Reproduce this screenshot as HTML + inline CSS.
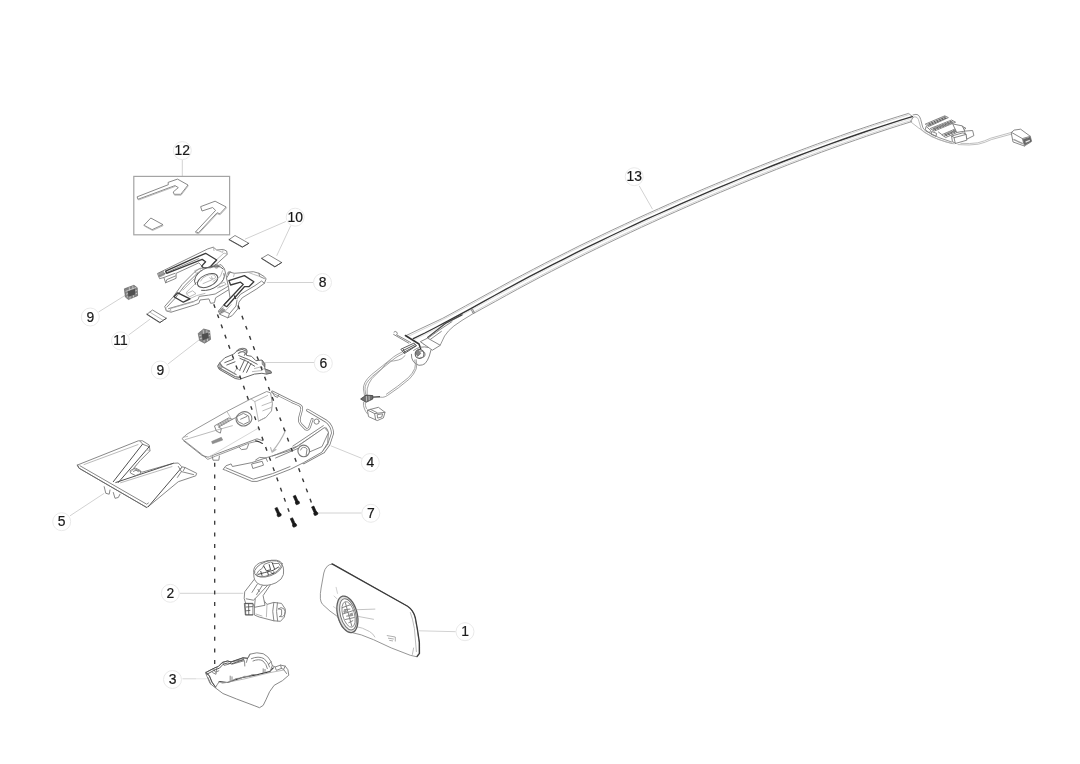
<!DOCTYPE html>
<html lang="en">
<head>
<meta charset="utf-8">
<title>Interior mirror - exploded parts diagram</title>
<style>
  html, body { margin: 0; padding: 0; background: #ffffff; }
  body { width: 1080px; height: 764px; overflow: hidden; font-family: "Liberation Sans", Arial, sans-serif; }
  svg { display: block; }
  .lbl text { font-family: "Liberation Sans", Arial, sans-serif; font-size: 13.9px; fill: #1a1a1a; stroke: #1a1a1a; stroke-width: 0.2px; text-anchor: middle; }
  .lbl circle { fill: #ffffff; stroke: #e9e9e9; stroke-width: 1; }
  .lead { stroke: #d2d2d2; stroke-width: 1; fill: none; }
  .o  { stroke: #7a7a7a; stroke-width: 0.9; fill: none; stroke-linejoin: round; stroke-linecap: round; }
  .of { stroke: #7a7a7a; stroke-width: 0.9; fill: #ffffff; stroke-linejoin: round; stroke-linecap: round; }
  .l  { stroke: #a9a9a9; stroke-width: 0.8; fill: none; stroke-linejoin: round; stroke-linecap: round; }
  .d  { stroke: #3a3a3a; stroke-width: 1.3; fill: none; stroke-linejoin: round; stroke-linecap: round; }
  .df { stroke: #3a3a3a; stroke-width: 1.3; fill: #ffffff; stroke-linejoin: round; stroke-linecap: round; }
  .dash { stroke: #383838; stroke-width: 1.4; fill: none; }
  .k  { fill: #1a1a1a; stroke: #1a1a1a; stroke-width: 0.6; }
  .g  { fill: #848484; stroke: #5a5a5a; stroke-width: 0.6; }
</style>
</head>
<body>
<svg width="1080" height="764" viewBox="0 0 1080 764">
<defs><filter id="soft" x="0" y="0" width="1080" height="764" filterUnits="userSpaceOnUse"><feGaussianBlur stdDeviation="0.42"/></filter></defs>
<rect x="0" y="0" width="1080" height="764" fill="#ffffff"/>
<g id="art" filter="url(#soft)">

<!-- ================= LEADER LINES ================= -->
<g id="leaders" class="lead">
  <path d="M182.3 160 V176.3"/>
  <path d="M285.8 221.5 L245 239.2"/>
  <path d="M290.8 225.5 L276.7 255.8"/>
  <path d="M266.7 282.5 H313.3"/>
  <path d="M98.5 312 L125.8 295"/>
  <path d="M128.6 335 L150 319.2"/>
  <path d="M168 364 L200 339.2"/>
  <path d="M265 362.5 H314.2"/>
  <path d="M330.8 445.8 L361.7 458.3"/>
  <path d="M318.3 513 H361.7"/>
  <path d="M70 515.8 L104.2 493.3"/>
  <path d="M180 593.3 H243.3"/>
  <path d="M182.5 678.8 H196" style="stroke:#d6d6d6"/><path d="M196 678.8 H206.7" style="stroke:#e6e6e6"/>
  <path d="M419.2 630.8 L455.8 631.7"/>
  <path d="M639.2 185.8 L652.5 209.2"/>
</g>

<!-- PARTS_BEGIN -->

<!-- ===== 12: adhesive pad kit (boxed) ===== -->
<g id="p12">
  <rect x="133.8" y="176.4" width="95.8" height="58.4" fill="none" stroke="#a4a4a4" stroke-width="1.2"/>
  <path class="of" d="M137.5 196.7 L168.3 184.7 L168.1 182.4 L177.5 179.1 L188 185 L180.8 194.3 L174.2 194.3 L173.2 192 L178.3 187.6 L175 185.6 L138.3 199.2 Z"/>
  <path class="l" d="M138.3 199.2 L138.6 200 L175 186.5 M174.2 194.3 L174.6 195.2 L181.1 195.2 L188.2 185.9"/>
  <path class="of" d="M201 206.5 L215.1 201.2 L226.2 207 L219.9 213.8 L217 212.8 L198.5 232.8 L195.6 231.8 L215.6 210.4 L212.6 207.5 L202.4 210.9 Z"/>
  <path class="l" d="M195.6 231.8 L195.7 232.8 L198.6 233.8 L217.2 213.8 L220.1 214.8 L226.4 208"/>
  <path class="of" d="M144.2 225 L150.8 218 L163 224.7 L152.5 229.5 Z"/>
  <path class="l" d="M144.2 225 L144.4 226 L152.6 230.5 L163 225.7"/>
</g>

<!-- ===== 10 / 11: small pads ===== -->
<g id="pads">
  <path class="of" d="M229.2 239.5 L235 235.5 L248.8 243.3 L242.5 247 Z"/>
  <path class="d" style="stroke:#4a4a4a;stroke-width:0.95" d="M229.2 239.5 L242.5 247 L248.8 243.3"/>
  <path class="of" d="M261.7 258.3 L268 254.5 L281.7 262.5 L275 266.7 Z"/>
  <path class="d" style="stroke:#4a4a4a;stroke-width:0.95" d="M261.7 258.3 L275 266.7 L281.7 262.5"/>
  <path class="of" d="M147 314.2 L152.5 310 L166.3 318.3 L160 322.5 Z"/>
  <path class="d" style="stroke:#4a4a4a;stroke-width:0.95" d="M147 314.2 L160 322.5 L166.3 318.3"/>
  <path class="l" d="M149.8 312.1 L163.2 320.4"/>
</g>

<!-- ===== 9: clips ===== -->
<g id="clips">
  <g transform="translate(130.7 292.4) scale(1.02)">
    <path class="g" d="M-6.2 -3.5 L3.2 -7 L6.4 -4.6 L6.8 3.2 L-2.2 7 L-5.2 4.6 Z"/>
    <path d="M-5 -1 L5.6 -5 M-4.6 1.8 L6 -2 M-3.8 4.6 L6.4 0.8 M-1.4 -5.2 L-0.6 6.2 M2 -6.4 L2.8 5" stroke="#d8d8d8" stroke-width="0.7" fill="none"/>
    <path d="M-2.8 -1.2 L4.2 -3.6 L4.6 2 L-2.4 4.6 Z" fill="#505050"/>
  </g>
  <g transform="translate(204.2 335.8) scale(1.0)">
    <path class="g" d="M-6 -2.4 L-0.6 -6.8 L5.4 -5.2 L6.4 3.6 L0.4 7.4 L-4.6 4.8 Z"/>
    <path d="M-5 0 L5.8 -3.4 M-4.4 3 L6 -0.4 M-1 -6 L0 6.6 M2.6 -5.6 L3.4 5.4" stroke="#d8d8d8" stroke-width="0.7" fill="none"/>
    <path d="M-2.6 -1.6 L4 -3.4 L4.6 2.2 L-1.6 4.6 Z" fill="#505050"/>
  </g>
</g>

<!-- ===== 8: mounting bracket ===== -->
<g id="p8">
  <!-- left arm -->
  <path class="of" d="M157.8 273.3 L207.8 248.9 L213.3 247.2 L216.7 250 L223.3 249.4 L226.7 251.1 L227.2 254.4 L216.7 263.9 L210.6 267.8 L204 268.5 L198.9 262.8 L176.1 273.3 L176.1 278.3 L165.6 282.8 L163.9 277.5 L160 278.6 Z"/>
  <path class="o" d="M159 276 L176 268.4 L198.9 258.6 M163.9 277.5 L175 273.3 M165.6 282.8 L166.8 279.6 L175.4 276"/>
  <path class="l" d="M213.3 247.2 L214 250.6 M223.3 249.4 L222.6 252.4 L216.7 250 M227.2 254.4 L224 253 L214 262 L210.6 267.8"/>
  <path class="g" style="opacity:0.75" d="M158.4 273.6 L163.4 271.2 L164.8 274.6 L159.8 277 Z"/>
  <path class="d" d="M165.6 271.1 L196.7 257.2 L205.6 253.3 L216.7 260 L209.4 267.8 L203.3 267.8 L201.7 266.1 L205.6 261.7 L202.2 259.4 L166.7 273.3 Z"/>
  <!-- centre body -->
  <path class="of" d="M165 306.1 L173.3 296.7 L182.2 284.4 L194.4 272.2 L200 268.3 L210.6 267.8 L221 264.6 L224.4 268.6 L226.7 277.8 L230 288.9 L215.6 297.8 L214.4 302.8 L210.6 303.3 L208.9 298.9 L200 300 L198.9 303.3 L194.4 305 L171.1 312.2 L166.7 311.1 Z"/>
  <path class="o" d="M167.4 306.6 L175.4 298 L184.2 286.2 L196 274.6 L201.4 270.6 M168.6 308.6 L193.6 301.4 L198 299.6 L199.2 296.4 L208.4 295.2 L215.2 294 L228.6 286"/>
  <path class="l" d="M166.2 307.2 A2.4 2.4 0 1 0 170.6 309.8 M171.1 312.2 L170.4 308.6 L194 301.8 M186 300.4 L196.6 295.6 L205 293.4 M183 290 L194 279 M186.2 292.6 L197 282"/>
  <ellipse class="o" style="stroke:#5c5c5c;stroke-width:1" cx="207.6" cy="280.6" rx="10.8" ry="6" transform="rotate(-24 207.6 280.6)"/>
  <path class="o" style="stroke:#5c5c5c;stroke-width:1" d="M195.6 284.4 A15.4 9 -24 0 1 223.4 269 M224 273.6 A16 9.4 -24 0 1 201.6 290.4"/>
  <path class="l" d="M200.6 281 A8 4 -24 0 1 214.6 275.4 M203 283.6 L212.4 279.6 L211.6 276.6 M209.6 277.8 A3 1.8 0 1 0 215.4 276.2 M213 281.4 L220.4 276.4 L222.6 270.6"/>
  <path class="l" d="M195 270.6 L199.6 268.6 L201 271 L196.4 273.2 Z M186.6 293.6 L192.6 290.8 L196 293.6 L190 296.6 Z M218.6 284.6 L224.4 282.2 L226 284.4 L220.2 287 Z M217.6 288 L223.8 285.4"/>
  <circle class="g" style="opacity:0.7" cx="216.4" cy="266.3" r="2"/>
  <circle class="g" style="opacity:0.7" cx="229.6" cy="273.6" r="2.1"/>
  <path class="d" d="M173.9 296.7 L177.8 292.8 L190 298.9 L183.3 302.2 Z"/>
  <!-- right arm -->
  <path class="of" d="M226.7 277.8 L230 272.2 L234.4 273.3 L247.8 272.2 L253.3 271.7 L258.9 273.3 L264.4 276.7 L266.1 278.9 L264.4 283.3 L256.7 288.9 L242.2 297.8 L238.9 302.2 L237.8 308.9 L232.2 315.6 L227.8 317.8 L220 314.4 L218.3 311.1 L221.1 307.8 L230 297.8 L228.6 287.6 Z"/>
  <path class="o" d="M258.9 273.3 L259.6 276.4 L264.4 278.6 M264.4 283.3 L261.6 281 L255 285.6 L240.6 294.2 L237 298.6 M220 314.4 L222.6 310.6 L229.6 313.6 L227.8 317.8 M229.6 313.6 L236 306 L237 300"/>
  <path class="l" d="M234.4 273.3 L233.6 276.6 M247.8 272.2 L253.6 274.4 L259.6 276.4 M219.4 311.4 L223.8 306.8 M224 312.4 L231.2 304.6"/>
  <path class="g" style="opacity:0.75" d="M219 311.6 L222.2 308.2 L225.2 309.8 L222.2 313.2 Z"/>
  <path class="d" d="M228.9 280.6 L244.4 275.6 L253.9 281.7 L248.9 286.7 L244.4 286.7 L226.7 306.7 L223.9 305 L240 287.8 L243.3 284.4 L240.6 282.2 L230.6 285 Z"/>
</g>

<!-- ===== 6: sensor carrier ===== -->
<g id="p6">
  <path class="of" style="stroke:#686868;stroke-width:1" d="M217.8 365.9 L219.6 363 L224.8 357.8 L233.7 354.1 L236.7 351.1 L241.9 349.3 L246.3 351.1 L246.5 355.4 L251.5 356.3 L255.9 360.7 L261.9 360 L264.8 363.7 L264.8 368.9 L270.7 371.1 L271.5 373 L266.3 374.1 L261.9 373.3 L254.4 374.1 L239.6 379.3 L235.2 378.5 L219.6 369.6 Z"/>
  <path class="o" style="stroke-width:1.2" d="M218.6 367.4 L234.8 376.6 L239.6 377.4 M219.6 363 L222.4 366.8 L236 374.6 M236.7 351.1 A4.6 3 -20 0 1 246 354 M238.4 353.4 A3.2 2 -20 0 1 244.4 355.2"/>
  <path class="o" style="stroke:#666666;stroke-width:1" d="M238.8 355.6 L248.6 359.6 L257.2 364.2 M240 358.4 L246.6 361.2 L254.6 366.2 M244.6 359.8 L239.6 370.4 M248.2 361.6 L243.2 372 M251 363.4 L246.6 372.4 M224.8 362.6 L233.4 359.2 M226.8 365 L235 361.8"/>
  <path class="l" d="M254.4 368.6 L261.6 366.6 L263.8 369.4 M252.4 371.6 L261.4 370.6 M233.4 373.8 L236.6 368.8 L240.6 370.2"/>
  <path class="g" style="opacity:0.8" d="M261.9 360 L264.8 363.7 L264.6 367 L262.2 364.2 Z"/>
  <path class="g" style="opacity:0.8" d="M264.8 368.9 L270.7 371.1 L271.5 373 L266.3 374.1 Z"/>
  <path class="g" style="opacity:0.6" d="M218.2 365.6 L220.2 363.4 L222.6 366.8 L220.4 369.4 Z"/>
</g>

<!-- ===== 4: roof console housing ===== -->
<g id="p4">
  <!-- upper-left shell -->
  <path fill="#ffffff" stroke="none" d="M181.9 438.7 L187 434.1 L226.9 411.4 L250.9 398.9 L266.7 391.5 L270.6 392.9 L272.4 403.5 L271.5 410.9 L266 417.8 L262.2 443.1 L257 441.2 L249.3 443.1 L238.9 447 L215.6 456.1 L207.8 459.4 L200 452.9 Z"/>
  <path class="o" style="stroke:#8c8c8c" d="M258.5 421.1 L265.9 417.4 L271.5 410.9 L272.4 403.5 L270.6 392.9 L266.7 391.5 L250.9 398.9 L226.9 411.4 L187 434.1 L181.9 438.7 L200 452.9 L207.8 459.4 L215.6 456.1 L238.9 447 L249.3 443.1 L257 441.2"/>
  <path class="d" style="stroke-width:1.1" d="M255.6 440.8 L258.6 441.6 L262.4 443.4"/>
  <path class="o" d="M183.6 440.8 L202 455.4 L208 457.2 L257 438.8 L262.6 440.6"/>
  <path class="o" d="M212.3 456.6 L213 460.2 L218.8 460.2 L219.4 456.1 M238.9 447 L241.5 449.6 L246.7 449 L248.6 444.4"/>
  <path class="l" d="M185.2 439.6 L215.7 430.4 L232.4 425.7 M183.4 437.2 L187.6 436.4 M250.9 398.9 L254.8 401.6 L267.6 395.4 M254.8 401.6 L258.5 421.1 L265.9 417.4 M262 405.6 L271.6 402 M262.8 410.8 L271.4 407.4 M227 411.6 L230.4 417.4"/>
  <path class="o" d="M214.8 425.7 L228.7 417.9 L232.4 419.3 L218.5 427.1 L221.3 428.5 L220.4 433.1 L216.7 431.3 Z"/>
  <path d="M217 425.4 L229 418.8 M218 426.2 L230.4 419.6 M218.4 424 L220 427 M220.6 422.8 L222.2 425.8 M222.8 421.6 L224.4 424.6 M225 420.4 L226.6 423.4 M227.2 419.2 L228.8 422.2" stroke="#8a8a8a" stroke-width="0.7" fill="none"/>
  <ellipse class="o" style="stroke-width:1.1" cx="244" cy="418.8" rx="8" ry="7" transform="rotate(-20 244 418.8)"/>
  <path class="o" d="M236.8 416.6 L243.4 413.4 L248.6 416 L249.4 421.6 L243.6 424.4 L238.4 421.8 Z M232.4 419.3 L237 417 M240.6 419.2 L247 416.4"/>
  <path d="M211.6 441.5 L221.3 437.3 L222.7 440.1 L212.5 443.8 Z" fill="#8f8f8f" stroke="#7a7a7a" stroke-width="0.5"/>
  <path class="l" style="stroke:#cdcdcd" d="M208 457.4 L258.6 428"/>
  <!-- wire bracket and frame -->
  <path d="M272.4 391.9 L291.9 401.7 L299.3 404.9 Q302.4 406.4 301.6 410 L299.6 417.4 Q298.6 422 301.4 424.6 L305.7 429 Q308.4 430.2 309.6 427 L312.2 419.3" fill="none" stroke="#7a7a7a" stroke-width="2.6" stroke-linejoin="round" stroke-linecap="round"/>
  <path d="M272.4 391.9 L291.9 401.7 L299.3 404.9 Q302.4 406.4 301.6 410 L299.6 417.4 Q298.6 422 301.4 424.6 L305.7 429 Q308.4 430.2 309.6 427 L312.2 419.3" fill="none" stroke="#ffffff" stroke-width="1.1" stroke-linejoin="round" stroke-linecap="round"/>
  <path class="o" d="M272.4 391.9 L274.6 396.2 L277.6 397.4 L278.8 394.8"/>
  <path d="M307.6 410.2 L326.1 421.1 Q332 425.4 332.6 433.1 L328.9 444.3 L323.3 452 L303.7 462.6" fill="none" stroke="#7a7a7a" stroke-width="3" stroke-linejoin="round" stroke-linecap="round"/>
  <path d="M307.6 410.2 L326.1 421.1 Q332 425.4 332.6 433.1 L328.9 444.3 L323.3 452 L303.7 462.6" fill="none" stroke="#ffffff" stroke-width="1.4" stroke-linejoin="round" stroke-linecap="round"/>
  <path class="o" d="M326.1 427.6 Q328.4 430 328 433.1 L324.6 443 L320.6 448.6 L309.6 454.4"/>
  <circle class="o" cx="316.6" cy="421.6" r="2.6"/>
  <path class="o" d="M323.3 425.7 L292.8 446.1 M325 427.6 L294.6 448"/>
  <!-- lower shell -->
  <path class="of" d="M223.3 469.1 L225.9 465.8 L231.1 463.9 L232.4 466.5 L251.9 462.6 L267.4 457.4 L290.7 450.3 L298.5 445.7 L324.4 427.6 L328.4 432 L327.7 443.1 L321.9 452.2 L303.7 462.6 L290.7 469.1 L272.6 476.2 L257 481.4 L251.9 481.4 L225.9 470.4 Z"/>
  <path class="o" d="M225.9 467.8 L253.2 479.2 L272.6 473.6 L290 466.6 M272.6 456 L296 446.6 M275.6 458 L298 448.4"/>
  <path class="o" d="M251.9 463.9 L262.2 461.3 L263.5 465.2 L253.2 468.4 Z M255.6 460 L259.6 457.4 L266 458 L267.4 461.4"/>
  <circle class="of" style="stroke-width:1.1" cx="303.7" cy="450.9" r="5.8"/>
  <path class="o" d="M300.6 450 A3.4 3.4 0 0 1 307 449.2 L306.2 455 M309.4 452 L322 446.6 L328 433.6"/>
  <path class="l" style="stroke:#b4b4b4;stroke-width:1.15" d="M285.6 430.2 Q281 441 272.4 451.4 M270.6 447.6 L272 452.2 L276 449.6"/>
</g>

<!-- ===== 5: V-shaped trim cover ===== -->
<g id="p5">
  <path class="of" d="M77.5 465 L138.3 440.8 L142.5 440.8 L149.2 445 L150 450.8 L140 460.8 L133.6 468.4 L142 472.2 L173.3 463.3 L178.3 463 L181.7 466.7 L185 467.5 L196.7 473.3 L195.8 475.8 L178.3 481.7 L149.2 505.8 L146.7 507.5 L79.2 468.3 Z"/>
  <path class="o" d="M80 465.8 L146.7 504.2 L148.4 503 M140.2 441.4 L143 444.4 L149.2 446.7"/>
  <path class="d" style="stroke:#505050;stroke-width:1" d="M142.5 444.2 L113.3 481.7 M149.2 446.7 L118.3 482.5 M115.8 482.5 L173.3 463.3 M181.7 467.5 L148.3 506.7"/>
  <path class="d" style="stroke:#686868;stroke-width:0.95" d="M77.5 465 L79.2 468.3 L146.7 507.5"/>
  <path class="o" d="M178.3 466.4 L181.4 471.6 L177.4 477.4 M181.4 471.6 L193.6 474.6 M185 467.5 L183.4 470.6"/>
  <path class="l" d="M84 464.6 L138 444.6 M120.6 482.8 L172 466.6 M137.5 463.3 L131.6 471.4 M150 450.8 L146.4 449.4"/>
  <path class="o" d="M130.6 470.4 L135.4 468 L140.4 470.6 L140.6 473.6 L135.6 475.6 L130.8 473.2 Z M133.4 471.4 L136 470.2 L138.4 471.6"/>
  <path class="o" d="M104.2 486.7 L105.8 493.3 L109.2 494.2 L110 490 M113.3 492.5 L115 498.3 L118.3 497.5 L120 494.2"/>
</g>

<!-- ===== assembly (dashed) lines ===== -->
<g id="dashes">
  <path class="dash" style="stroke-dasharray:3.9 6.95" d="M213.75 304.2 L291.5 518.3"/>
  <path class="dash" style="stroke-dasharray:3.9 6.95" d="M234.35 295.4 L312.6 505.8"/>
  <path class="dash" style="stroke-width:1.3;stroke-dasharray:4 7.6" d="M214.7 462.8 V668"/>
</g>

<!-- ===== 7: screws ===== -->
<g id="screws" class="k">
  <g transform="translate(277.9 512.1) rotate(-24)"><rect x="-1.25" y="-4.6" width="2.5" height="7"/><rect x="-2" y="1.6" width="4" height="3" rx="1"/></g>
  <g transform="translate(296.2 500) rotate(-24)"><rect x="-1.25" y="-4.6" width="2.5" height="7"/><rect x="-2" y="1.6" width="4" height="3" rx="1"/></g>
  <g transform="translate(293.3 522.5) rotate(-24)"><rect x="-1.25" y="-4.6" width="2.5" height="7"/><rect x="-2" y="1.6" width="4" height="3" rx="1"/></g>
  <g transform="translate(314.6 510.8) rotate(-24)"><rect x="-1.25" y="-4.6" width="2.5" height="7"/><rect x="-2" y="1.6" width="4" height="3" rx="1"/></g>
</g>

<!-- ===== 2: mirror arm / ball joint ===== -->
<g id="p2">
  <!-- lower ball housing -->
  <path class="of" d="M254.4 607 L254.4 615 L259.2 617 L273.8 620.8 L280.5 621.3 L284.4 617 L285.4 609.2 L281.5 603.4 L273.8 602.4 L267 604.4 L263.4 600 Z"/>
  <path class="o" d="M273.8 602.4 Q271.6 611 273.8 620.8 M277.4 602.8 Q275.6 611 277.6 621 M278.4 608.8 A4.2 4.6 0 1 1 279.6 616.6 M278.4 608.8 L281.6 609.6 L281.6 615.2 L279.6 616.6"/>
  <path class="l" d="M256 614 L262 616 M267 604.4 L266.4 616.8"/>
  <!-- arm -->
  <path class="of" d="M254.4 579.2 L244.7 591.8 L244.2 598.5 L245.7 603.4 L252.9 603.4 L254.4 607.3 L265 605.3 L263.1 595.6 L270.9 584 L273.6 582.4 L264 585 Z"/>
  <path class="o" d="M267.9 585 L255.3 598.5 L254.4 607.3 M257.4 584 L252 592.4 M246.2 598.8 L253.4 600.2 L255.3 598.5 M258 589.4 L259.4 591.6 M262.2 585.6 L256.6 594.6"/>
  <!-- clip on arm (dark) -->
  <path class="of" d="M244.7 603.4 L252.9 603.4 L252.9 615 L245.7 615 Z"/>
  <path class="d" style="stroke:#4c4c4c;stroke-width:0.8" d="M245.2 603.6 L252.6 603.8 M246.4 607 L252.4 606.6 M248.6 604 L248.8 614.6 M245.8 614.8 L252.8 614.8 M245 603.6 L245.8 614.6 M246.4 610.8 L250 610.4"/>
  <!-- ring -->
  <path class="of" d="M253.6 572 Q253 566.4 259.4 563 Q268 559 276.6 561 Q283.6 563.4 283.6 570 L283.4 574.6 Q282.4 579.4 276 582.8 Q267 586.8 260.2 584.6 Q254.8 582.6 254 577.4 Z"/>
  <ellipse class="o" cx="268.4" cy="568.6" rx="14.6" ry="7.4" transform="rotate(-20 268.4 568.6)"/>
  <path class="o" d="M256.6 574 Q258 570.4 262.4 568.2 L264.4 564.2 L270.6 562 L274 563.6 L279 563.4 L280.6 566.6 Q279 570.4 274.4 573 L265 576.4 L258.4 576.4 Z"/>
  <path class="d" style="stroke-width:0.9" d="M258 574.4 L264.6 572.6 L273 570.4 L278.6 567 M263.8 566.2 L266.4 570.8 L270.6 569.8 L269.2 564.6 M272.4 563.2 L274.4 568.6 M260.8 571.4 L262 575.4 M267.6 572 L268.4 575 M271 572.6 A1.6 1.2 0 1 0 274 571.8"/>
</g>

<!-- ===== 3: lower cover ===== -->
<g id="p3">
  <path class="of" d="M205.9 672.5 L209.2 670.6 L214.7 667.9 L218.3 666.5 L222.4 662.4 L227.5 661 L231.1 661.9 L243 657.8 L247.6 658.3 L249.9 654.2 L256.8 652.8 L263.2 653.7 L267.8 656.9 L271 661.5 L272.3 665.6 L275.1 667 L280.6 665.1 L285.2 666.1 L287.9 669.7 L288.8 675.2 L282.4 680.7 L274.2 685.3 L269.6 691.7 L265.9 699.9 L263.2 705.4 L259.5 707.7 L254.9 705.9 L236.6 699 L222.9 693.5 L215.6 688 L210.1 683.5 L207.3 677.1 Z"/>
  <path class="d" style="stroke-width:1.1" d="M219.2 681.6 L227.5 682.5 L243.9 677.1 L254.9 675.2 L269.6 671.6 L273.3 667.9"/>
  <path class="o" d="M205.9 672.5 L209.2 675.2 L211.9 681.6 L215.6 687.1 L217.4 684.4 L219.2 681.6 M208 677.6 L210.8 684 M216.5 668.8 L216 674.3 L212.6 672.6 M213.4 668.6 L215.4 672.2 L218.8 670.8 M222.4 662.4 L224 665.4 L229.4 664 L231.1 661.9 M231.1 661.9 L243.2 659.6 M232 664.2 L244 660.8 M247.6 658.3 L246.4 662.4 M243 657.8 L244.6 662 L244.8 666 M230.2 676.1 V680.6 M232 676.8 V680 M263.2 668.8 V672.6 M265 669.4 V672.4"/>
  <path class="o" d="M249.9 654.2 L248.5 657.4 M251.3 658.7 Q258.6 655.6 264.1 658.7 Q268.6 662.6 269.6 667 M253 661 Q259 658.4 263 661 Q266.4 664 267.4 668.6 M271 661.5 L268.6 664.6 M272.3 665.6 L270 672"/>
  <path class="o" d="M275.1 667 L276.4 670.4 L281.4 668.4 L280.6 665.1 M285.2 666.1 L283.6 669.4 L286.6 673.6 M281.4 668.4 L283.6 669.4"/>
  <path class="l" d="M222 683.4 L244 679 L270 672.6 L284 670 M240 678.6 Q244 675 249 676.2"/>
  <path class="d" style="stroke:#4a4a4a;stroke-width:0.9" d="M205.9 672.5 L214.7 667.9 L218.3 666.5 L222.4 662.4 L227.5 661 L231.1 661.9 L243 657.8 L247.6 658.3 M207 674.2 L215.4 669.6 L219.4 668.2 L223.2 664.2 L227.6 663 L231.6 663.8 L243.2 659.8 M206.2 673 L209.4 676 L212 682.4 L215.6 687.4"/>
  <path class="o" d="M231.6 680.8 Q236 677.6 241 678 M248 676.6 Q252 673.4 257 674.6"/>
</g>

<!-- ===== 1: interior mirror ===== -->
<g id="p1">
  <path class="of" style="stroke:#8a8a8a" d="M332.7 564.1 Q329 564.2 327.3 566.2 Q324.6 569 323.8 573 L321.1 588 Q320 594 320.4 598.8 Q320.8 602.4 322.5 604.3 L330 611.1 L337.5 616.5 L342.2 627.4 Q346 630.8 350.4 632.2 L361.3 634.9 L373.5 639.7 L391.2 647.9 L410.3 655.3 L416.4 656.7 L419.1 653.3 L419.1 642.4 L417.1 628.8 L415.1 617.9 Q414 613.6 412.3 611.1 Q410.6 608.4 407.6 606.3 Z"/>
  <path d="M332 563.9 L407.6 606.3 Q410.8 608.4 412.6 611.4 Q414.4 614 415.4 618 L417.4 629 L419.4 642.4 L419.5 653.4 L417 656.6" fill="none" stroke="#3a3a3a" stroke-width="1.25" stroke-linejoin="round" stroke-linecap="round"/>
  <path class="l" d="M410.4 612.6 Q412.6 618 414.4 628.6 L416.4 651.6 M412.4 654.4 L413.6 648"/>
  <path class="l" style="stroke:#b4b4b4" d="M357.2 609.7 L374.9 609.1 M358.6 616.5 L373.5 619.3 M354.5 626.1 Q363 627.6 369.5 631.5 Q373.4 633.8 374.9 637"/>
  <path class="l" style="stroke:#c4c4c4" d="M336.1 587.3 L337.5 593.4 M334 596 L337 598.8 M333.4 606.6 L336.4 608.6 M335 615 L337.6 616.4"/>
  <path class="l" style="stroke:#9a9a9a" d="M387.2 635.6 L395.3 637 L395.3 641.1 M388.4 638.2 L393.4 639 M389.6 640.4 L392.6 640.9"/>
  <!-- mount -->
  <g transform="rotate(-15 347.4 614.3)">
    <ellipse cx="347.4" cy="614.3" rx="9.7" ry="18.7" fill="#e2e2e2" stroke="#5e5e5e" stroke-width="1.3"/>
    <ellipse cx="348" cy="614.5" rx="7.7" ry="16" fill="#ffffff" stroke="#747474" stroke-width="1"/>
    <ellipse cx="348.5" cy="614.7" rx="5.9" ry="13.2" fill="none" stroke="#8a8a8a" stroke-width="0.9"/>
    <path d="M343.6 606.6 L353.2 605.8 M343 612.8 L354.2 612.2 M343.8 618.8 L353.6 619.2 M348.4 602 L348.6 627 M345.2 609 L351.6 610 M345.8 615.8 L352.2 616.6 M346.2 622.8 L351.4 621.8" fill="none" stroke="#7a7a7a" stroke-width="0.85"/>
    <path d="M344.2 609.8 L347.6 609.4 L347.6 612.2 L344.4 612.4 Z M349.4 614.2 L352.8 614 L352.8 617.2 L349.6 617.2 Z" fill="#9a9a9a" stroke="none"/>
  </g>
</g>

<!-- ===== 13: wiring harness ===== -->
<g id="p13">
  <!-- BAND_BEGIN -->
  <path class="o" style="stroke:#8c8c8c;stroke-width:0.9" d="M440.3 345 L444.6 336 Q448 330.6 453.9 326 L462 320.4 L472.7 313.9 L484.0 307.7 L495.3 301.5 L506.5 295.3 L517.8 289.1 L529.0 283.1 L540.3 277.1 L551.5 271.3 L562.8 265.5 L574.0 259.8 L585.3 254.2 L596.5 248.7 L607.8 243.2 L619.1 237.8 L630.3 232.5 L641.6 227.2 L652.8 222.1 L664.1 216.9 L675.3 211.9 L686.6 206.9 L697.9 202.0 L709.1 197.1 L720.4 192.3 L731.6 187.6 L742.9 182.9 L754.2 178.3 L765.4 173.8 L776.7 169.3 L787.9 164.9 L799.2 160.6 L810.5 156.3 L821.7 152.1 L833.0 148.0 L844.2 144.0 L855.5 140.1 L866.7 136.2 L878.0 132.4 L889.2 128.7 L900.5 125.1 L911.7 121.6"/>
  <path class="l" style="stroke:#c6c6c6;stroke-width:0.7" d="M472.1 312.8 L483.4 306.5 L494.6 300.3 L505.9 294.1 L517.2 288.0 L528.4 282.0 L539.7 276.0 L550.9 270.1 L562.2 264.3 L573.5 258.6 L584.7 253.0 L596.0 247.5 L607.2 242.0 L618.5 236.6 L629.8 231.3 L641.0 226.1 L652.3 220.9 L663.6 215.8 L674.8 210.7 L686.1 205.7 L697.3 200.8 L708.6 195.9 L719.9 191.1 L731.1 186.4 L742.4 181.7 L753.7 177.1 L764.9 172.6 L776.2 168.1 L787.5 163.7 L798.7 159.4 L810.0 155.1 L821.3 150.9 L832.5 146.8 L843.8 142.8 L855.1 138.8 L866.3 135.0 L877.6 131.2 L888.8 127.5 L900.1 123.9 L911.4 120.4"/>
  <path class="o" style="stroke:#8c8c8c;stroke-width:0.9" d="M406.3 335.5 L418 329.9 L431 323.8 L442.7 318.3 L454.0 312.2 L465.3 306.0 L476.7 299.8 L488.0 293.6 L499.4 287.4 L510.7 281.2 L522.1 275.2 L533.5 269.2 L544.8 263.3 L556.2 257.5 L567.6 251.8 L578.9 246.1 L590.3 240.6 L601.7 235.1 L613.0 229.7 L624.4 224.4 L635.7 219.1 L647.1 213.9 L658.5 208.8 L669.8 203.7 L681.2 198.7 L692.6 193.8 L703.9 188.9 L715.3 184.1 L726.6 179.4 L738.0 174.7 L749.4 170.1 L760.7 165.6 L772.1 161.1 L783.4 156.7 L794.8 152.4 L806.2 148.1 L817.5 143.9 L828.9 139.8 L840.3 135.8 L851.6 131.8 L863.0 128.0 L874.4 124.2 L885.7 120.5 L897.1 116.9 L908.5 113.4 L913.4 117.2 L910.4 121.6"/>
  <path class="l" style="stroke:#c6c6c6;stroke-width:0.7" d="M407.4 336.8 L419 331.2 L432 325 L443.3 319.4 L454.6 313.3 L466.0 307.2 L477.3 301.0 L488.6 294.7 L500.0 288.5 L511.3 282.4 L522.7 276.3 L534.1 270.3 L545.4 264.5 L556.8 258.7 L568.1 252.9 L579.5 247.3 L590.9 241.8 L602.2 236.3 L613.6 230.9 L624.9 225.5 L636.3 220.3 L647.6 215.1 L659.0 210.0 L670.4 204.9 L681.7 199.9 L693.1 195.0 L704.4 190.1 L715.8 185.3 L727.1 180.6 L738.5 175.9 L749.8 171.3 L761.2 166.8 L772.6 162.3 L783.9 157.9 L795.3 153.6 L806.6 149.3 L818.0 145.2 L829.3 141.1 L840.7 137.0 L852.1 133.1 L863.4 129.2 L874.8 125.4 L886.1 121.8 L897.5 118.2 L908.9 114.7"/>
  <path d="M413.3 338.6 L424.9 333.0 L436.5 327.0 L448.1 320.9 L459.7 314.6 L471.3 308.3 L482.9 301.9 L494.5 295.5 L506.1 289.2 L517.7 282.9 L529.3 276.7 L541.0 270.7 L552.6 264.7 L564.2 258.8 L575.8 252.9 L587.4 247.2 L599.0 241.6 L610.6 236.0 L622.2 230.5 L633.8 225.1 L645.4 219.7 L657.0 214.5 L668.6 209.3 L680.2 204.1 L691.8 199.1 L703.4 194.1 L715.0 189.1 L726.6 184.3 L738.2 179.5 L749.8 174.7 L761.4 170.1 L773.0 165.5 L784.6 161.0 L796.3 156.5 L807.9 152.1 L819.5 147.9 L831.1 143.6 L842.7 139.5 L854.3 135.5 L865.9 131.5 L877.5 127.7 L889.1 123.9 L900.7 120.2 L912.3 116.7" fill="none" stroke="#363636" stroke-width="1.35" stroke-linejoin="round" stroke-linecap="round"/>
  <path class="l" style="stroke:#d0d0d0;stroke-width:0.6" d="M414.6 339.6 L426.2 334.0 L437.8 328.0 L449.4 321.9 L461.0 315.7 L472.6 309.3 L484.2 302.9 L495.7 296.6 L507.3 290.3 L518.9 284.0 L530.4 277.9 L542.0 271.8 L553.5 265.8 L565.1 260.0 L576.7 254.2 L588.2 248.5 L599.8 242.8 L611.4 237.3 L622.9 231.8 L634.5 226.4 L646.1 221.1 L657.6 215.8 L669.2 210.6 L680.8 205.5 L692.3 200.5 L703.9 195.5 L715.5 190.6 L727.0 185.7 L738.6 180.9 L750.2 176.2 L761.7 171.6 L773.3 167.0 L784.8 162.5 L796.4 158.1 L808.0 153.7 L819.5 149.4 L831.1 145.2 L842.7 141.1 L854.2 137.1 L865.8 133.1 L877.4 129.3 L888.9 125.5 L900.5 121.9 L912.0 118.3"/>
  <path class="o" d="M471.2 309.4 L473.2 313.4 M472.4 308.8 L474.4 312.8"/>
  <!-- BAND_END -->
  <!-- lower junction -->
  <path d="M427.6 337.4 L446.3 322.8 L462 314.8" fill="none" stroke="#4a4a4a" stroke-width="1.3" stroke-linecap="round"/>
  <path class="o" d="M422 342.4 L440 329.6 L452 321.6 M424 344 L441.4 331.4"/>
  <path class="of" d="M420.7 341.5 L427.6 338.1 L440.3 345.3 L432.7 350 Z"/>
  <path class="o" d="M394 332 A1.9 1.9 0 1 1 396.6 334.8 L410.8 342.6 M393.6 334.4 L408.8 343.2"/>
  <path d="M405.4 335.5 L419 344 L420.6 348.6" fill="none" stroke="#333333" stroke-width="1.5" stroke-linecap="round" stroke-linejoin="round"/>
  <path class="df" style="stroke:#4a4a4a;stroke-width:0.9" d="M401.2 349.1 L413.9 343.2 L416.5 345.7 L404.6 353.4 Z"/>
  <path class="d" style="stroke:#4a4a4a;stroke-width:0.9" d="M402.6 350.8 L415 344.6 M403.4 349.4 L404.8 352.6 M403.6 352.4 L416 345.8"/>
  <path class="o" d="M411.4 354.3 Q411.2 358.4 413.1 361.1 Q415.4 364.6 419 365.3 Q422.6 365.4 425 363.6 Q427.8 360.6 429.3 356 L431 350 M413.6 350.4 Q420 345.4 428.4 347.4"/>
  <circle class="of" style="stroke:#555;stroke-width:1.1" cx="419.6" cy="354" r="4.4"/>
  <path class="g" d="M415.4 352.4 L418.6 350.4 L420.8 353.4 L417.6 356.4 Z"/>
  <path class="o" d="M420.6 351.4 A3 3.4 0 1 1 420.8 357.4"/>
  <!-- wires -->
  <path class="l" style="stroke:#8e8e8e" d="M401.7 352.2 Q396 355 393.9 356.7 L382.8 365.6 L371.7 374.5 Q367 378.4 365 382.3 Q363.2 386 363.4 388.9 L364.5 395.6"/>
  <path class="l" style="stroke:#8e8e8e" d="M403 353.6 Q397 356.6 395 358.2 L383.8 367.2 L372.8 376 Q368.2 380 366.4 383.4 Q364.8 386.8 365 389.4 L365.8 395.2"/>
  <path class="l" style="stroke:#8e8e8e" d="M405.1 355.6 Q402 359.4 398.4 360 Q393 361.4 389.5 361.1 Q385 364 381.7 368.9 L371.7 378.9 Q368 384 367.2 388.9 L367.2 395.6"/>
  <path class="l" style="stroke:#8e8e8e" d="M416.2 359.6 Q417.4 365 416.2 368.9 Q414 374.4 409.5 378.9 L398.4 387.8 L387.3 395.6 Q385 397 382.8 397.3 L372.8 396.7"/>
  <path class="l" style="stroke:#8e8e8e" d="M414.8 360 Q416 365 414.8 368.4 Q412.8 373.4 408.4 377.6 L397.4 386.4 L386.4 394.2"/>
  <path d="M360.6 399 L366.1 395.1 L372.8 395.6 L372.8 399 L366.1 402.3 Z" fill="#6e6e6e" stroke="#3c3c3c" stroke-width="0.8" stroke-linejoin="round"/>
  <path d="M366.4 396 L366.6 401.4 M369 396 L369.2 400.4" stroke="#dddddd" stroke-width="0.7" fill="none"/>
  <path d="M372.8 397.2 L380 396.6" stroke="#4a4a4a" stroke-width="1.1" fill="none"/>
  <path class="l" style="stroke:#8e8e8e" d="M363.4 402.3 Q363 406 364.5 409 Q365.6 412 367.6 414 M365.2 402.6 Q365 406 366.4 408.6"/>
  <path class="of" d="M367.8 410.1 L378.4 407.3 L385 412.3 L383.4 417.9 L377.3 420.6 L368.9 416.8 Z"/>
  <path class="o" d="M367.8 410.1 L374.6 413.6 L385 412.3 M374.6 413.6 L375.6 419.6 M377.6 414.6 L382.6 413.8 L381.8 417 L378 418 Z M370.6 409.4 L377 412.6"/>
  <!-- upper end: wires and connector cluster -->
  <path class="o" style="stroke:#8a8a8a" d="M913 114.9 Q916.6 113.8 918.1 114.9 Q920 116.6 920.7 119.4 L922.7 127.2 Q923.6 129.6 925.9 131.1 L938.9 137.6 L951.9 142.1"/>
  <path class="l" d="M912 117.6 Q915.4 116 917 117.4 Q918.6 119 919 121.6 L921 128.4 Q922 131 924.6 132.6 L938 139.4 L952 143.6 M910.4 121.6 L918.4 127.8 L931.4 136.6 L946 142 L954 143.8"/>
  <g>
    <path class="of" d="M925.6 124 L944.8 115.8 L948.4 117.6 L929 126.4 Z"/>
    <path class="of" d="M930.6 128.4 L951.6 120 L955.6 122.2 L934.4 131 Z"/>
    <path class="of" d="M942 134.6 L962 126 L966 128.4 L946 137.4 Z"/>
    <path d="M927.4 124.6 L945.6 116.8 M928 125.6 L946.4 117.8 M932.4 129 L952.6 121 M933 130 L953.4 122 M943.8 135.2 L963 127 M944.4 136.2 L963.8 128" stroke="#555" stroke-width="0.8" fill="none"/>
    <path d="M929 123 L930.4 125.6 M931.6 121.9 L933 124.5 M934.2 120.8 L935.6 123.4 M936.8 119.7 L938.2 122.3 M939.4 118.6 L940.8 121.2 M942 117.5 L943.4 120.1 M944.4 116.4 L945.8 119 M934.4 127.6 L935.8 130.2 M937 126.5 L938.4 129.1 M939.6 125.4 L941 128 M942.2 124.3 L943.6 126.9 M944.8 123.2 L946.2 125.8 M947.4 122.1 L948.8 124.7 M950 121 L951.4 123.6 M945.6 133.6 L947 136.2 M948.2 132.5 L949.6 135.1 M950.8 131.4 L952.2 134 M953.4 130.3 L954.8 132.9 M956 129.2 L957.4 131.8 M958.6 128.1 L960 130.7 M961 127 L962.4 129.6" stroke="#555" stroke-width="0.8" fill="none"/>
    <path class="of" d="M953.1 124 L962.2 125.9 L964.8 131.1 L957 132.4 Z"/>
    <path class="of" d="M964.8 131.1 L972.6 130.5 L973.9 135.6 L967.4 138.9 Z"/>
    <path class="of" d="M954.4 137.6 L966.1 134.4 L966.8 140.2 L955.7 143.4 Z"/>
    <path class="o" d="M954.4 137.6 L951.6 136 L952.4 141.6 L955.7 143.4 M951.6 136 L963 132.8 L966.1 134.4"/>
    <path class="o" d="M926.4 126.6 L930.6 130.4 L929.6 133 L925.6 130 Z M932 131.6 L936.6 133.4 L936 136.4 L931.4 134.4 Z M938.4 132 L941.4 134.2"/>
  </g>
  <path class="l" style="stroke:#b0b0b0" d="M960.9 143.4 Q970 144 977.8 142.8 Q985 141 990.7 138.2 L1011.5 132.4 M958 144.6 Q970 145.6 978.4 144.2 Q985.6 142.4 991.4 139.6 L1011.8 134"/>
  <path class="of" d="M1011.5 132.4 L1014.1 130.1 L1020.6 129.2 L1030.3 136.3 L1031.6 141.5 L1024.4 146 L1013.4 142.1 Z"/>
  <path class="o" d="M1011.5 132.4 L1022.4 138.6 L1030.3 136.3 M1022.4 138.6 L1024.4 146"/>
  <path d="M1023.4 139.4 L1030 137.4 L1031 141.2 L1024.8 144.8 Z" fill="#6a6a6a" stroke="#4a4a4a" stroke-width="0.7"/>
  <path d="M1025.4 141.4 L1029.6 139.8 L1030 141 L1025.8 142.8 Z" fill="#e8e8e8"/>
  <path d="M1013.4 139.4 L1022.8 143.6" stroke="#9a9a9a" stroke-width="1.4" fill="none"/>
</g>

<!-- PARTS_END -->

<!-- ================= LABELS ================= -->
<g id="labels" class="lbl">
  <g><circle cx="182.3" cy="150.6" r="9"/><text x="182.3" y="155.1">12</text></g>
  <g><circle cx="295.2" cy="217.2" r="9"/><text x="295.2" y="222">10</text></g>
  <g><circle cx="322.5" cy="282.5" r="9"/><text x="322.5" y="287">8</text></g>
  <g><circle cx="90.3" cy="317" r="9"/><text x="90.3" y="321.5">9</text></g>
  <g><circle cx="120.5" cy="340.8" r="9"/><text x="120.5" y="345.3">11</text></g>
  <g><circle cx="160.3" cy="370" r="9"/><text x="160.3" y="374.5">9</text></g>
  <g><circle cx="323.3" cy="363.3" r="9"/><text x="323.3" y="367.8">6</text></g>
  <g><circle cx="370.3" cy="462.5" r="9"/><text x="370.3" y="467">4</text></g>
  <g><circle cx="61.7" cy="521.7" r="9"/><text x="61.7" y="526.2">5</text></g>
  <g><circle cx="370.8" cy="513.3" r="9"/><text x="370.8" y="517.8">7</text></g>
  <g><circle cx="170.3" cy="593.3" r="9"/><text x="170.3" y="597.8">2</text></g>
  <g><circle cx="465" cy="631.7" r="9"/><text x="465" y="636.2">1</text></g>
  <g><circle cx="172.5" cy="679.5" r="9"/><text x="172.5" y="684">3</text></g>
  <g><circle cx="634.2" cy="176.7" r="9"/><text x="634.2" y="181.2">13</text></g>
</g>
</g>
</svg>
</body>
</html>
